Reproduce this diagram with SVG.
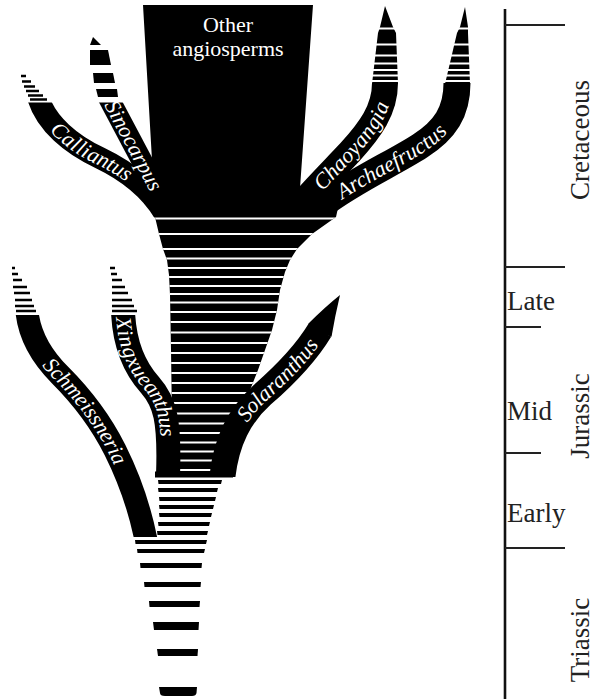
<svg xmlns="http://www.w3.org/2000/svg" width="597" height="699" viewBox="0 0 597 699">
<style>
.blk{fill:#000}
.br{fill:none;stroke:#000;stroke-linecap:butt}
.lbl{font-family:'Liberation Serif',serif;font-style:italic;font-size:22px;fill:#fff}
.ttl{font-family:'Liberation Serif',serif;font-size:22px;fill:#fff;text-anchor:middle}
.dash{stroke:#000;stroke-width:2.6;fill:none}
.gap{stroke:#fff;stroke-width:2;fill:none}
.scale{font-family:'Liberation Serif',serif;font-size:27px;fill:#222}
.tick{stroke:#222;stroke-width:2}
</style>
<defs>
<clipPath id="clipTop"><rect x="0" y="0" width="597" height="217.5"/></clipPath>
<clipPath id="clipCS"><rect x="0" y="102.5" width="597" height="115"/></clipPath>
<clipPath id="clipSch"><rect x="0" y="315" width="597" height="222"/></clipPath>
<clipPath id="clipXin"><rect x="0" y="315" width="597" height="159"/></clipPath>
<clipPath id="clipSol"><rect x="0" y="0" width="597" height="477"/></clipPath>
<clipPath id="trunkClip"><polygon points="155,217 336,217 312,234 297,249 290,260 285,272 280,290 277,310 272,330 265,350 258,370 250,390 240,410 230,440 222,472 174,472 172,420 171,350 170,295 169,275 167,260 163,249 159,234"/></clipPath>
<path id="cCal" d="M38,97 C46,124 72,145 100,158 C125,170 150,187 166,216"/>
<path id="cSin" d="M107,95 L160,195"/>
<path id="cCha" d="M305,200 C318,185 335,168 350,152 C370,130 385,110 385,83"/>
<path id="cArc" d="M322,205 C355,180 392,164 420,146 C445,130 457,112 457,83"/>
<path id="cSch" d="M27,312 C30,340 45,360 60,375 C80,395 100,420 115,450 C125,470 138,500 146,540"/>
<path id="cXin" d="M123,311 C124,340 132,365 150,385 C165,402 170,420 168,476"/>
<path id="cSol" d="M222,480 C226,440 240,415 262,395 C285,375 305,355 320,330"/>
</defs>
<rect width="597" height="699" fill="#fff"/>

<g id="other-angiosperms">
<polygon class="blk" points="143,5 313,5 300,188 310,217 155,217 152,160"/>
<polygon class="blk" points="300,186 345,176 336,217 300,217"/>
<text class="ttl" x="228" y="32">Other</text>
<text class="ttl" x="228" y="56">angiosperms</text>
</g>

<g id="calliantus">
<g clip-path="url(#clipCS)"><use href="#cCal" class="br" stroke-width="22"/></g>
<path class="dash" d="M21,76 H26 M22,81.5 H31 M24,86.5 H35 M26,91 H39 M28,95.5 H43 M30,99.5 H47"/>
<text class="lbl" dy="0.33em"><textPath href="#cCal" startOffset="79" text-anchor="middle">Calliantus</textPath></text>
</g>

<g id="sinocarpus">
<g clip-path="url(#clipCS)"><use href="#cSin" class="br" stroke-width="21"/></g>
<polygon class="blk" points="93,37 101,45 90,45"/>
<polygon class="blk" points="90,50 108,50 111,65 90,65"/>
<polygon class="blk" points="93,73 113,73 115,83 94,83"/>
<polygon class="blk" points="96,89 117,89 118,97 98,97"/>
<text class="lbl" dy="0.33em"><textPath href="#cSin" startOffset="57" text-anchor="middle">Sinocarpus</textPath></text>
</g>

<g id="archaefructus">
<g clip-path="url(#clipTop)"><use href="#cArc" class="br" stroke-width="27"/></g>
<polygon class="blk" points="445,84 457,33 460,27 465,7 468,27 468,33 470,84"/>
<path class="gap" d="M440,28.5 H478 M440,44.5 H478 M440,55.5 H478 M440,63.5 H478 M440,70 H478 M440,75.5 H478 M440,81 H478"/>
<text class="lbl" dy="0.33em"><textPath href="#cArc" startOffset="82" text-anchor="middle">Archaefructus</textPath></text>
</g>

<g id="chaoyangia">
<g clip-path="url(#clipTop)"><use href="#cCha" class="br" stroke-width="26"/></g>
<polygon class="blk" points="372,84 378,33 380,27 385,6 393,27 396,33 398,84"/>
<path class="gap" d="M365,28.5 H405 M365,44.5 H405 M365,55.5 H405 M365,63.5 H405 M365,70 H405 M365,75.5 H405 M365,81 H405"/>
<text class="lbl" dy="0.33em"><textPath href="#cCha" startOffset="72" text-anchor="middle">Chaoyangia</textPath></text>
</g>

<g id="stem">
<polygon class="blk" points="155,217 336,217 312,234 297,249 290,260 285,272 280,290 277,310 272,330 265,350 258,370 250,390 240,410 230,440 222,472 174,472 172,420 171,350 170,295 169,275 167,260 163,249 159,234"/>
<g clip-path="url(#trunkClip)">
<path class="gap" stroke-width="2.3" d="M140,218.5 H345 M140,234 H345 M140,249 H345 M140,258.5 H345 M140,268 H345 M140,277 H345 M140,286 H345 M140,294 H345 M140,302.5 H345 M140,312 H345 M140,322 H345 M140,332.5 H345 M140,343 H345 M140,353 H345 M140,363 H345 M140,373 H345 M140,383 H345 M140,393 H345 M140,403 H345 M140,413.5 H345 M140,423.5 H345 M140,433 H345 M140,442.5 H345 M140,451.5 H345 M140,460.5 H345 M140,470 H345"/>
</g>
<rect class="blk" x="155" y="471.5" width="78" height="6"/>
<polygon class="blk" points="158,480 222,480 221,484 158.5,484"/>
<polygon class="blk" points="158,488 218,488 217,492 158.5,492"/>
<polygon class="blk" points="159,497 216,497 215,501 159.5,501"/>
<polygon class="blk" points="159,505 214,505 213,509 159.5,509"/>
<polygon class="blk" points="159,513 212,513 211,517 159.5,517"/>
<polygon class="blk" points="158,522 210,522 209,526 158.5,526"/>
<polygon class="blk" points="157,531 208,531 207,535 157.5,535"/>
<polygon class="blk" points="135,540 207,540 206,544 135.5,544"/>
<polygon class="blk" points="137,549 205,549 204,553 137.5,553"/>
<polygon class="blk" points="140,563 202,563 201.5,568 140.5,568"/>
<polygon class="blk" points="144,582 201,582 200.5,587 144.5,587"/>
<polygon class="blk" points="149,601 200,601 199.5,607 149.5,607"/>
<polygon class="blk" points="153,622 199,622 198.5,630 154,630"/>
<polygon class="blk" points="157,649 198,649 197.5,656 158,656"/>
<path class="blk" d="M159,687 H197 L196.5,693 Q196,696 192,696 H165 Q160,696 160,693 Z"/>
</g>

<g id="schmeissneria">
<g clip-path="url(#clipSch)"><use href="#cSch" class="br" stroke-width="23"/></g>
<path class="dash" d="M12,268 H15 M12,274 H18 M13,280 H22 M13,287 H27 M14,293 H30 M15,300 H32 M15,306 H34 M16,311 H36"/>
<text class="lbl" dy="0.33em"><textPath href="#cSch" startOffset="117" text-anchor="middle">Schmeissneria</textPath></text>
</g>

<g id="xingxueanthus">
<g clip-path="url(#clipXin)"><use href="#cXin" class="br" stroke-width="24"/></g>
<path class="dash" d="M110,268 H115 M111,274 H117 M112,280 H122 M112,287 H125 M112,293 H128 M112,300 H132 M112,306 H134 M112,311 H137"/>
<text class="lbl" dy="0.33em"><textPath href="#cXin" startOffset="71" text-anchor="middle">Xingxueanthus</textPath></text>
</g>

<g id="solaranthus">
<g clip-path="url(#clipSol)"><use href="#cSol" class="br" stroke-width="26"/></g>
<path class="blk" d="M308.5,323.5 Q325,307 340,295 Q335,316 331.5,336.8 L318,332 Z"/>
<text class="lbl" dy="0.33em"><textPath href="#cSol" startOffset="118" text-anchor="middle">Solaranthus</textPath></text>
</g>

<g id="timescale">
<line x1="505" y1="9" x2="505" y2="699" stroke="#111" stroke-width="2.6"/>
<line class="tick" x1="505" y1="25" x2="565" y2="25"/>
<line class="tick" x1="505" y1="267" x2="565" y2="267"/>
<line class="tick" x1="505" y1="327" x2="541" y2="327" stroke-width="1.5"/>
<line class="tick" x1="505" y1="453" x2="541" y2="453" stroke-width="1.5"/>
<line class="tick" x1="505" y1="548" x2="565" y2="548"/>
<text class="scale" x="507" y="310">Late</text>
<text class="scale" x="507" y="420">Mid</text>
<text class="scale" x="507" y="522">Early</text>
<text class="scale" text-anchor="middle" transform="translate(589,140) rotate(-90)">Cretaceous</text>
<text class="scale" text-anchor="middle" transform="translate(589,416) rotate(-90)">Jurassic</text>
<text class="scale" text-anchor="middle" transform="translate(589,640) rotate(-90)">Triassic</text>
</g>
</svg>
